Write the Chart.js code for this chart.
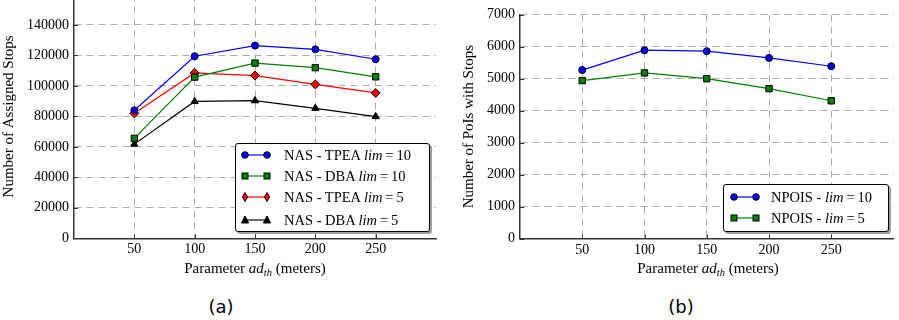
<!DOCTYPE html>
<html>
<head>
<meta charset="utf-8">
<script src="https://cdn.jsdelivr.net/npm/chart.js@4.4.0/dist/chart.umd.min.js"></script>
<style>
  body { margin: 0; background: #fff; }
  #page { position: relative; width: 899px; height: 320px; overflow: hidden; background: #fff; font-family: 'Liberation Serif', serif; }
  .holder { position: absolute; }
  .xtitle { position: absolute; width: 300px; text-align: center; font-size: 15px; line-height: 18px; color: #000; }
  .xtitle sub { font-size: 10.5px; vertical-align: -3px; line-height: 0; }
  .panel { position: absolute; width: 60px; text-align: center; font-family: 'DejaVu Sans', sans-serif; font-size: 18px; line-height: 22px; color: #000; }
  .legend { position: absolute; border: 1px solid #000; border-radius: 3px; background: #fff; box-shadow: 2px 2px 0 #a0a0a0; font-size: 14.5px; color: #000; }
  .legend .row { position: absolute; left: 0; height: 20px; line-height: 20px; white-space: nowrap; }
  .legend svg { position: absolute; top: 5px; }
  .legend span { position: absolute; top: 0; }
</style>
</head>
<body>
<div id="page">
  <div class="holder" style="left:0;top:-20px;width:450px;height:290px"><canvas id="stops"></canvas></div>
  <div class="holder" style="left:460px;top:0;width:439px;height:290px"><canvas id="pois"></canvas></div>
  <div class="xtitle" style="left:105px;top:259px">Parameter <i>ad</i><sub><i>th</i></sub> (meters)</div>
  <div class="xtitle" style="left:558px;top:259px">Parameter <i>ad</i><sub><i>th</i></sub> (meters)</div>
  <div class="panel" style="left:191px;top:296px">(a)</div>
  <div class="panel" style="left:651px;top:296px">(b)</div>
  <div class="legend" id="legStops" style="left:235px;top:143px;width:193px;height:87px"></div>
  <div class="legend" id="legPois" style="left:723px;top:184px;width:164px;height:46px"></div>
</div>
<script>
// x values (parameter ad_th, meters)
const adth = [50, 100, 150, 200, 250];

// (a) number of assigned stops
const tpeaLim10 = [84000, 119500, 126500, 124000, 117500];
const dbaLim10 = [65600, 105800, 115000, 112000, 106000];
const tpeaLim5 = [82000, 108500, 106800, 101000, 95400];
const dbaLim5 = [61800, 89800, 90300, 85300, 79900];

// (b) number of PoIs with stops
const npoisLim10 = [5270, 5890, 5860, 5650, 5390];
const npoisLim5 = [4940, 5180, 5000, 4690, 4310];

const xTicks = [50, 100, 150, 200, 250];
const stopTicks = [0, 20000, 40000, 60000, 80000, 100000, 120000, 140000];
const poiTicks = [0, 1000, 2000, 3000, 4000, 5000, 6000, 7000];

const serif = 'Liberation Serif';

function pts(arr) {
    return adth.map((x, i) => ({ x: x, y: arr[i] }));
}

function series(label, arr, color, style, r) {
    return {
        label: label,
        data: pts(arr),
        borderColor: color,
        borderWidth: 1.2,
        backgroundColor: color,
        pointBackgroundColor: color,
        pointBorderColor: '#000',
        pointBorderWidth: 1,
        pointStyle: style,
        pointRadius: r,
        tension: 0,
        fill: false
    };
}

// short inward tick marks, like the matplotlib axes
const innerTicks = {
    id: 'innerTicks',
    afterDatasetsDraw(chart) {
        const ctx = chart.ctx, a = chart.chartArea;
        const xs = chart.scales.x, ys = chart.scales.y;
        ctx.save();
        ctx.strokeStyle = '#333';
        ctx.lineWidth = 1;
        ctx.beginPath();
        xs.ticks.forEach(t => {
            const px = Math.round(xs.getPixelForValue(t.value)) + 0.5;
            ctx.moveTo(px, a.bottom);
            ctx.lineTo(px, a.bottom - 4);
        });
        ys.ticks.forEach(t => {
            const py = Math.round(ys.getPixelForValue(t.value)) + 0.5;
            ctx.moveTo(a.left, py);
            ctx.lineTo(a.left + 4, py);
        });
        ctx.stroke();
        ctx.restore();
    }
};

function makeChart(id, datasets, yTicks, yMax, yTitle, yWidth, xHeight, pad) {
    return new Chart(document.getElementById(id), {
        type: 'line',
        data: { datasets: datasets },
        plugins: [innerTicks],
        options: {
            responsive: true,
            maintainAspectRatio: false,
            animation: false,
            layout: { padding: pad },
            plugins: { legend: { display: false }, tooltip: { enabled: false } },
            scales: {
                x: {
                    type: 'linear',
                    min: 0,
                    max: 300,
                    afterBuildTicks: s => { s.ticks = xTicks.map(v => ({ value: v })); },
                    afterFit: s => { s.height = xHeight; },
                    ticks: { callback: v => String(v), color: '#000', padding: 3, font: { family: serif, size: 14 } },
                    grid: { color: '#aaaaaa', lineWidth: 1, drawTicks: false },
                    border: { display: true, color: '#333', width: 1.5, dash: [7, 5] }
                },
                y: {
                    min: 0,
                    max: yMax,
                    afterBuildTicks: s => { s.ticks = yTicks.map(v => ({ value: v })); },
                    afterFit: s => { s.width = yWidth; },
                    ticks: { callback: v => String(v), color: '#000', padding: 5, font: { family: serif, size: 14 } },
                    grid: { color: '#aaaaaa', lineWidth: 1, drawTicks: false },
                    border: { display: true, color: '#333', width: 1.5, dash: [7, 5] },
                    title: { display: true, text: yTitle, color: '#000', padding: 0, font: { family: serif, size: 15 } }
                }
            }
        }
    });
}

const stopSets = [
    series('NAS - TPEA lim = 10', tpeaLim10, '#0000ff', 'circle', 3.5),
    series('NAS - DBA lim = 10', dbaLim10, '#008000', 'rect', 4.5),
    series('NAS - TPEA lim = 5', tpeaLim5, '#ff0000', 'rectRot', 4.5),
    series('NAS - DBA lim = 5', dbaLim5, '#000000', 'triangle', 4.2)
];
const poiSets = [
    series('NPOIS - lim = 10', npoisLim10, '#0000ff', 'circle', 3.5),
    series('NPOIS - lim = 5', npoisLim5, '#008000', 'rect', 4.5)
];

makeChart('stops', stopSets, stopTicks, 160000, 'Number of Assigned Stops', 74, 31.7,
    { top: 14.5, left: 0, right: 14, bottom: 0 });
makeChart('pois', poiSets, poiTicks, 7000, 'Number of PoIs with Stops', 60, 51.3,
    { top: 14.7, left: 0, right: 2.5, bottom: 0 });

// html legends so "lim" can be set in italics
function marker(style, color) {
    const e = 'stroke="#000" stroke-width="1" fill="' + color + '"';
    const one = cx => {
        if (style === 'circle') return '<circle cx="' + cx + '" cy="5" r="3.3" ' + e + '/>';
        if (style === 'rect') return '<rect x="' + (cx - 3) + '" y="2" width="6" height="6" ' + e + '/>';
        if (style === 'rectRot') return '<polygon points="' + cx + ',0.5 ' + (cx + 2.6) + ',5 ' + cx + ',9.5 ' + (cx - 2.6) + ',5" ' + e + '/>';
        return '<polygon points="' + cx + ',1 ' + (cx + 3.6) + ',8 ' + (cx - 3.6) + ',8" ' + e + '/>';
    };
    return '<svg width="30" height="10"><line x1="4" y1="5" x2="26" y2="5" stroke="' + color + '" stroke-width="1.2"/>' + one(4) + one(26) + '</svg>';
}

function buildLegend(id, sets, rowTops, svgLeft, textLeft) {
    const box = document.getElementById(id);
    sets.forEach((d, i) => {
        const parts = d.label.split('lim = ');
        const row = document.createElement('div');
        row.className = 'row';
        row.style.top = rowTops[i] + 'px';
        row.innerHTML = marker(d.pointStyle, d.borderColor).replace('<svg ', '<svg style="left:' + svgLeft + 'px" ') +
            '<span style="left:' + textLeft + 'px">' + parts[0] + '<i>lim</i>&thinsp;=&thinsp;' + parts[1] + '</span>';
        box.appendChild(row);
    });
}

buildLegend('legStops', stopSets, [1, 21.5, 43, 65.5], 5, 48);
buildLegend('legPois', poiSets, [1.5, 23], 5.5, 47);
</script>
</body>
</html>
